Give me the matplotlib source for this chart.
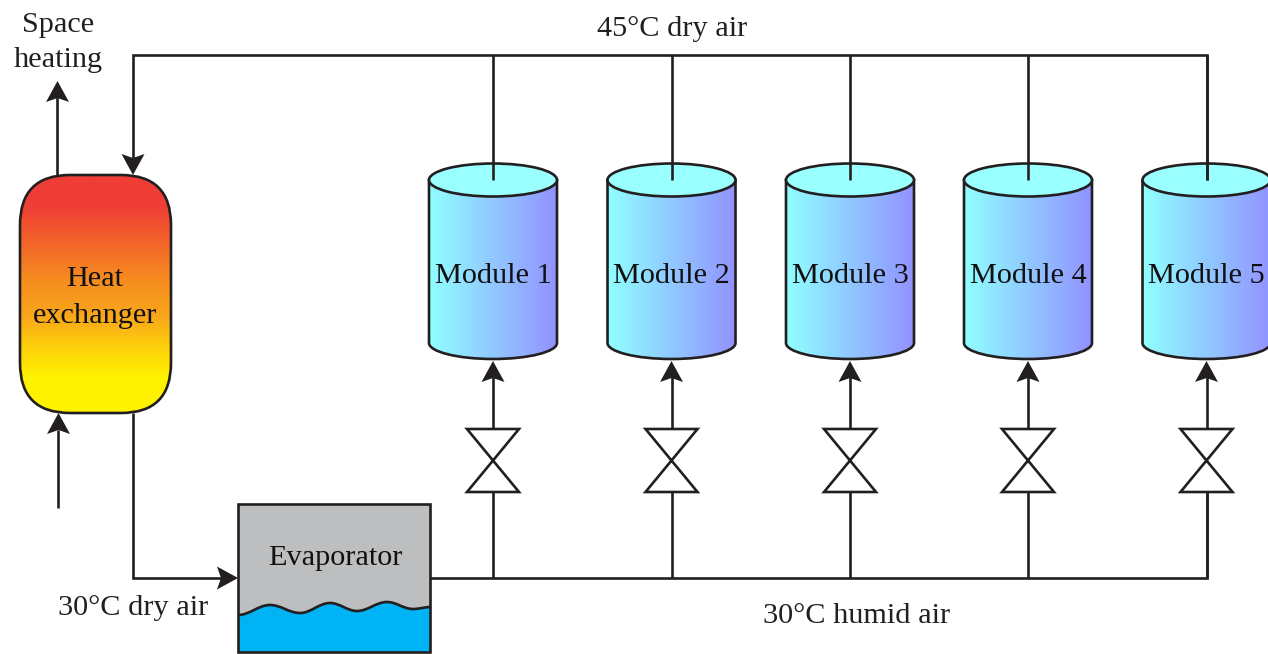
import matplotlib
matplotlib.use("Agg")
import matplotlib.pyplot as plt
import numpy as np
from matplotlib.colors import LinearSegmentedColormap
from matplotlib.patches import Ellipse, FancyBboxPatch, PathPatch, Polygon, Rectangle
from matplotlib.path import Path

plt.rcParams["font.family"] = ["Liberation Serif", "DejaVu Serif"]

MODULE_NAMES = ["Module 1", "Module 2", "Module 3", "Module 4", "Module 5"]
MODULE_X = [493, 671.5, 850, 1028, 1206.5]
WAVE_X = [238, 270, 300, 330, 357, 387, 413, 431]
WAVE_Y = [615, 605, 613, 603, 611, 602, 609, 607]

INK = "#231f20"
LW = 1.9
FS = 21.8


def line(ax, xs, ys):
    ax.plot(xs, ys, color=INK, lw=LW, solid_capstyle="butt", solid_joinstyle="miter", zorder=3)


def arrow_head(ax, x, y, dx, dy):
    # stealth head with its tip at x, y pointing along dx, dy
    px, py = -dy, dx
    pts = [
        (x, y),
        (x - 21 * dx + 11.5 * px, y - 21 * dy + 11.5 * py),
        (x - 17 * dx, y - 17 * dy),
        (x - 21 * dx - 11.5 * px, y - 21 * dy - 11.5 * py),
    ]
    ax.add_patch(Polygon(pts, closed=True, fc=INK, ec="none", zorder=5))


def gradient(ax, extent, colors, vertical, clip):
    cmap = LinearSegmentedColormap.from_list("g", colors)
    vals = np.linspace(0, 1, 256)
    img = vals[:, None] if vertical else vals[None, :]
    im = ax.imshow(img, cmap=cmap, extent=extent, aspect="auto", vmin=0, vmax=1, zorder=1)
    im.set_clip_path(clip)


def cylinder(ax, cx, name):
    hw, top, side, ry = 64, 180, 343, 16
    k = 0.55
    verts = [
        (cx - hw, top), (cx - hw, side),
        (cx - hw, side + k * ry), (cx - k * hw, side + ry), (cx, side + ry),
        (cx + k * hw, side + ry), (cx + hw, side + k * ry), (cx + hw, side),
        (cx + hw, top), (cx - hw, top),
    ]
    codes = [Path.MOVETO, Path.LINETO] + [Path.CURVE4] * 6 + [Path.LINETO, Path.CLOSEPOLY]
    body = PathPatch(Path(verts, codes), fc="none", ec=INK, lw=LW, zorder=2)
    ax.add_patch(body)
    gradient(ax, (cx - hw, cx + hw, side + ry, top), ["#90ffff", "#9292ff"], False, body)
    ax.add_patch(Ellipse((cx, top), 2 * hw, 2 * ry + 1, fc="#99ffff", ec=INK, lw=LW, zorder=2))
    ax.text(cx, 276, name, ha="center", va="center", fontsize=FS, color="#111111", zorder=6)


def valve(ax, cx):
    hw, top, bottom = 26, 429, 492
    pts = [(cx - hw, top), (cx + hw, top), (cx - hw, bottom), (cx + hw, bottom)]
    ax.add_patch(Polygon(pts, closed=True, fc="white", ec=INK, lw=LW, joinstyle="miter", zorder=4))


def wave_path():
    # horizontal tangents at every crest and trough
    verts = [(WAVE_X[0], WAVE_Y[0])]
    codes = [Path.MOVETO]
    for i in range(len(WAVE_X) - 1):
        step = 0.37 * (WAVE_X[i + 1] - WAVE_X[i])
        verts += [(WAVE_X[i] + step, WAVE_Y[i]), (WAVE_X[i + 1] - step, WAVE_Y[i + 1]),
                  (WAVE_X[i + 1], WAVE_Y[i + 1])]
        codes += [Path.CURVE4] * 3
    return verts, codes


fig = plt.figure(figsize=(12.68, 6.54), dpi=100)
ax = fig.add_axes([0, 0, 1, 1])
ax.set_xlim(0, 1268)
ax.set_ylim(654, 0)
ax.axis("off")

# pipework
line(ax, [133, 133, MODULE_X[-1], MODULE_X[-1]], [160, 55, 55, 180])
line(ax, [133, 133, 225], [413, 578, 578])
line(ax, [430, MODULE_X[-1], MODULE_X[-1]], [578, 578, 492])
line(ax, [57, 57], [175, 95])
line(ax, [58, 58], [508, 430])
arrow_head(ax, 57.5, 81, 0, -1)
arrow_head(ax, 133, 175, 0, 1)
arrow_head(ax, 58.5, 413, 0, -1)
arrow_head(ax, 238, 578, 1, 0)

for cx, name in zip(MODULE_X, MODULE_NAMES):
    cylinder(ax, cx, name)
    line(ax, [cx, cx], [55, 180])
    line(ax, [cx, cx], [578, 492])
    line(ax, [cx, cx], [429, 375])
    arrow_head(ax, cx, 361, 0, -1)
    valve(ax, cx)

# heat exchanger
hx = FancyBboxPatch((70, 225), 51, 138, boxstyle="round,pad=50,rounding_size=50",
                    fc="none", ec=INK, lw=LW, zorder=2)
ax.add_patch(hx)
gradient(ax, (20, 171, 413, 175),
         [(0, "#ef3e36"), (0.13, "#ef3e36"), (0.43, "#f68a20"), (0.6, "#f9a81a"),
          (0.73, "#fdd20a"), (0.85, "#fff200"), (1, "#fff200")], True, hx)

# evaporator
ax.add_patch(Rectangle((238, 504), 192, 148, fc="#bcbec0", ec="none", zorder=1))
verts, codes = wave_path()
water = verts + [(431, 652), (238, 652), (238, 615)]
water_codes = codes + [Path.LINETO, Path.LINETO, Path.CLOSEPOLY]
ax.add_patch(PathPatch(Path(water, water_codes), fc="#00b3f5", ec="none", zorder=2))
ax.add_patch(PathPatch(Path(verts, codes), fc="none", ec=INK, lw=LW, zorder=3))
ax.add_patch(Rectangle((238, 504), 192, 148, fc="none", ec=INK, lw=LW, zorder=4))

ax.text(58, 25, "Space", ha="center", va="center", fontsize=FS, color=INK)
ax.text(58, 60, "heating", ha="center", va="center", fontsize=FS, color=INK)
ax.text(672, 29, "45°C dry air", ha="center", va="center", fontsize=FS, color=INK)
ax.text(95, 279, "Heat", ha="center", va="center", fontsize=FS, color="#111111", zorder=6)
ax.text(95, 316, "exchanger", ha="center", va="center", fontsize=FS, color="#111111", zorder=6)
ax.text(335, 558, "Evaporator", ha="center", va="center", fontsize=FS, color="#111111", zorder=6)
ax.text(133, 608, "30°C dry air", ha="center", va="center", fontsize=FS, color=INK)
ax.text(857, 616, "30°C humid air", ha="center", va="center", fontsize=FS, color=INK)

fig.savefig("out.png", dpi=100)
